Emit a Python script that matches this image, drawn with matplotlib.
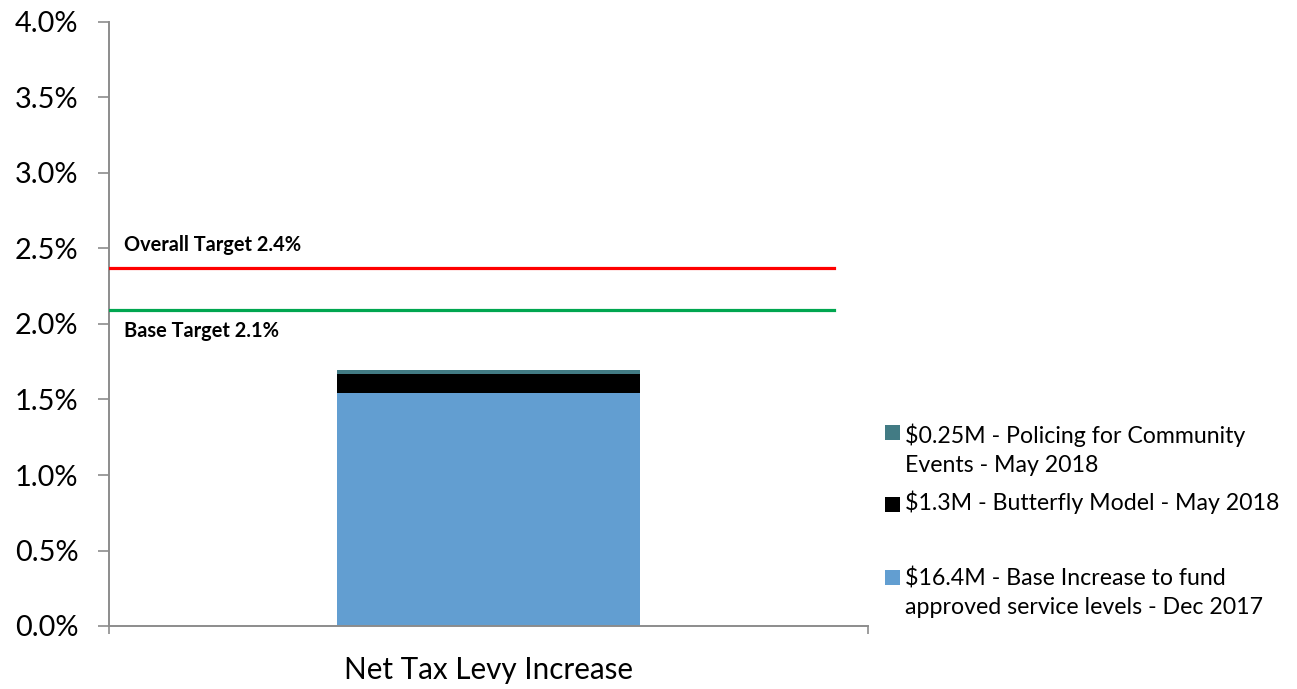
import matplotlib
matplotlib.use("Agg")
import matplotlib.pyplot as plt
from matplotlib.patches import Rectangle
from matplotlib.ticker import FixedLocator, FuncFormatter

plt.rcParams['font.family'] = ['Lato', 'DejaVu Sans']

# Data (percent of net tax levy)
category = "Net Tax Levy Increase"
segment_labels = [
    "$16.4M - Base Increase to fund\napproved service levels - Dec 2017",
    "$1.3M - Butterfly Model - May 2018",
    "$0.25M - Policing for Community\nEvents - May 2018",
]
segment_values = [1.545, 0.124, 0.026]
segment_colors = ["#629ED1", "#000000", "#427B84"]

overall_target = 2.37
base_target = 2.09
y_ticks = [0.0, 0.5, 1.0, 1.5, 2.0, 2.5, 3.0, 3.5, 4.0]

W, H = 1297, 689
fig = plt.figure(figsize=(W / 100, H / 100), dpi=100)
ax = fig.add_axes([109 / W, (H - 626) / H, (868 - 109) / W, (626 - 22) / H])

# stacked bar
bottom = 0.0
for val, col in zip(segment_values, segment_colors):
    ax.bar(0, val, width=0.4, bottom=bottom, color=col, zorder=2)
    bottom += val

# target lines
xmax_frac = (834 - 109) / (868 - 109)
ax.axhline(overall_target, xmin=0, xmax=xmax_frac, color="#FF0000", lw=2.3, zorder=3)
ax.axhline(base_target, xmin=0, xmax=xmax_frac, color="#00A650", lw=2.3, zorder=3)
ax.annotate(f"Overall Target {overall_target:.1f}%", xy=(-0.48, overall_target),
            xytext=(0, 12.3), textcoords="offset points", fontsize=14.4,
            fontweight="bold", ha="left", va="baseline", color="#000000")
ax.annotate(f"Base Target {base_target:.1f}%", xy=(-0.48, base_target),
            xytext=(0, -19.5), textcoords="offset points", fontsize=14.4,
            fontweight="bold", ha="left", va="baseline", color="#000000")

ax.set_xlim(-0.5, 0.5)
ax.set_ylim(0, 4.0)

# axes styling
axis_gray = "#8C8C8C"
for side in ("top", "right"):
    ax.spines[side].set_visible(False)
for side in ("left", "bottom"):
    ax.spines[side].set_color(axis_gray)
    ax.spines[side].set_linewidth(1.4)

ax.yaxis.set_major_locator(FixedLocator(y_ticks))
ax.yaxis.set_major_formatter(FuncFormatter(lambda v, p: f"{v:.1f}%"))
ax.tick_params(axis="y", direction="out", length=8, width=1.2, color=axis_gray,
               labelsize=20.8, pad=14, labelcolor="#000000")

ax.set_xticks([0])
ax.set_xticklabels([category])
ax.set_xticks([-0.5, 0.5], minor=True)
ax.tick_params(axis="x", which="major", length=0, labelsize=21.3, pad=21.5,
               labelcolor="#000000")
ax.tick_params(axis="x", which="minor", direction="out", length=6, width=1.2,
               color=axis_gray)

# legend, drawn in figure pixel coordinates
def fx(x):
    return x / W

def fy(y):
    return (H - y) / H

legend_rows = [
    # (segment index, square top px, first baseline px)
    (2, 425, 443),
    (1, 497, 510),
    (0, 570, 585),
]
line_step = 28.5
for idx, sq_top, base in legend_rows:
    fig.add_artist(Rectangle((fx(885), fy(sq_top + 15)), 15 / W, 15 / H,
                             transform=fig.transFigure,
                             facecolor=segment_colors[idx], edgecolor="none"))
    for k, line in enumerate(segment_labels[idx].split("\n")):
        fig.text(fx(905), fy(base + k * line_step), line, fontsize=16.7,
                 ha="left", va="baseline", color="#000000")

fig.savefig("out.png", dpi=100)
